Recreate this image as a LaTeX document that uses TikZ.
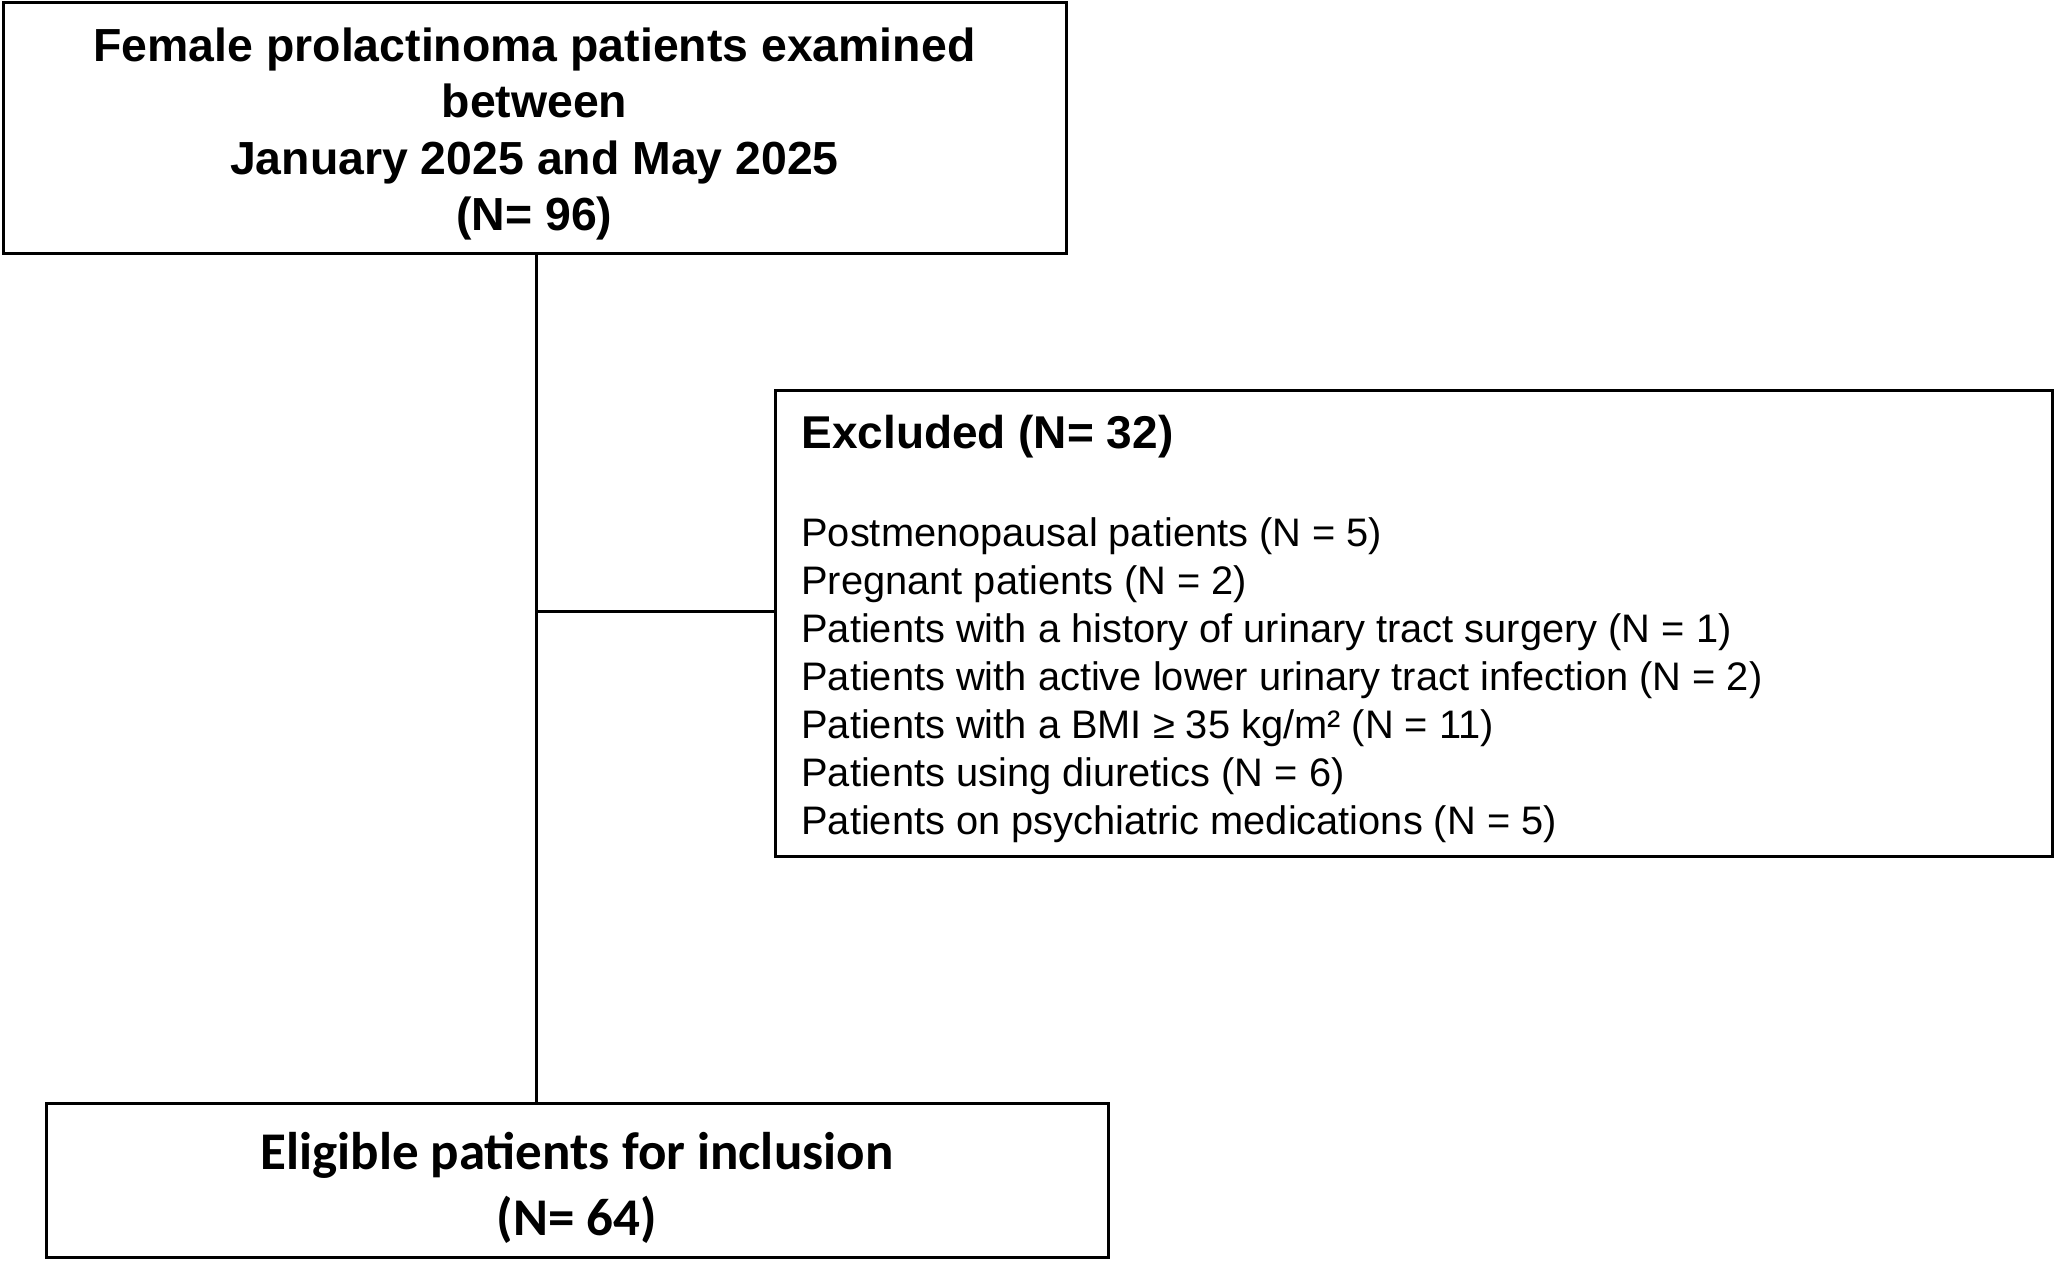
\documentclass[tikz,border=0pt]{standalone}
\usepackage{fontspec}
\setmainfont{Liberation Sans}
\newfontfamily\calfont{Carlito}
\begin{document}
\begin{tikzpicture}[x=0.5pt,y=-0.5pt,
  box/.style={draw=black,line width=1.5pt,inner sep=0pt,fill=white},
  txt/.style={inner sep=0pt},
  conn/.style={draw=black,line width=1.5pt}]
\useasboundingbox[fill=white] (0,0) rectangle (2056,1262);
\node[box,minimum width=1063*0.5pt,minimum height=251*0.5pt] (top) at (534.5,128.5) {};
\node[txt,align=center,font=\bfseries\fontsize{23.2}{28.2}\selectfont] (toptext) at (534.5,134)
  {Female prolactinoma patients examined\\between\\January 2025 and May 2025\\(N= 96)};
\node[box,minimum width=1277*0.5pt,minimum height=465*0.5pt] (excl) at (1413.5,623.5) {};
\node[txt,anchor=west,align=left,font=\fontsize{19.9}{24}\selectfont] (excltext) at (801,629)
  {{\bfseries\fontsize{23}{24}\selectfont Excluded (N= 32)}\\[25pt]
   Postmenopausal patients (N = 5)\\
   Pregnant patients (N = 2)\\
   Patients with a history of urinary tract surgery (N = 1)\\
   Patients with active lower urinary tract infection (N = 2)\\
   Patients with a BMI ≥ 35 kg/m² (N = 11)\\
   Patients using diuretics (N = 6)\\
   Patients on psychiatric medications (N = 5)};
\node[box,minimum width=1062*0.5pt,minimum height=154*0.5pt] (elig) at (577,1180) {};
\node[txt,align=center,font=\calfont\bfseries\fontsize{26.5}{33}\selectfont] (eligtext) at (577,1188)
  {Eligible patients for inclusion\\(N= 64)};
\coordinate (j) at (536,611);
\draw[conn] (top.south -| j) -- (elig.north -| j);
\draw[conn] (j) -- (excl.west |- j);
\end{tikzpicture}
\end{document}
